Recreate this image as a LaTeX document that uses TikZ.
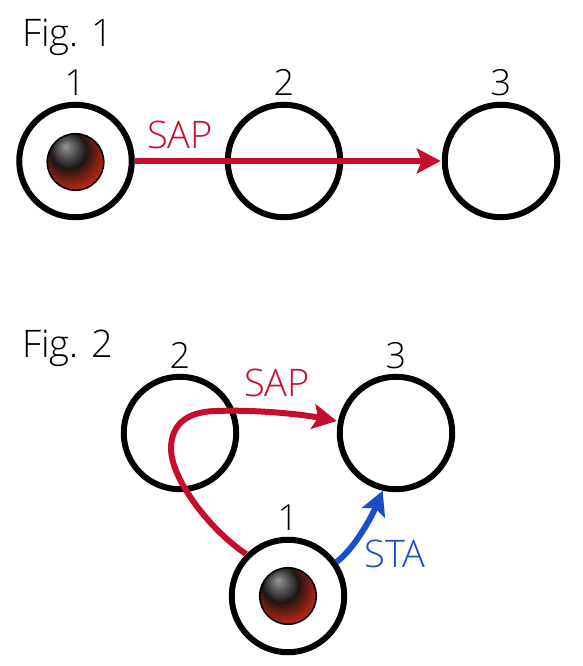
\documentclass[tikz,border=0pt]{standalone}
\usepackage{fontspec}
\setmainfont[UprightFont=* Light]{Open Sans}
\usetikzlibrary{arrows.meta,calc}
\definecolor{sapred}{RGB}{200,12,44}
\definecolor{stablue}{RGB}{26,78,200}
\definecolor{hl}{RGB}{150,150,150}
\definecolor{hm}{RGB}{85,85,85}
\definecolor{bk}{RGB}{30,22,20}
\definecolor{r1}{RGB}{115,30,18}
\definecolor{r2}{RGB}{190,40,24}
\definecolor{r3}{RGB}{245,45,25}
\pgfdeclareradialshading{ballshade}{\pgfpoint{-10bp}{16bp}}{
  color(0bp)=(hl);
  color(9bp)=(hm);
  color(18bp)=(bk);
  color(27bp)=(r1);
  color(36bp)=(r2);
  color(43bp)=(r3);
  color(70bp)=(r3)}
\tikzset{
  x=1pt,y=1pt,
  state/.style={circle,draw=black,line width=6pt,minimum size=112.5pt,inner sep=0pt,fill=none},
  ball/.style={circle,draw=black,line width=1.6pt,minimum size=56.5pt,inner sep=0pt,
    path picture={\node[inner sep=0pt] at (path picture bounding box.center) {\pgfuseshading{ballshade}};}},
  txt/.style={font=\fontsize{36}{36}\selectfont,inner sep=0pt},
  big/.style={font=\fontsize{38}{38}\selectfont,inner sep=0pt},
  sapline/.style={draw=sapred,line width=6pt,-{Stealth[length=24pt,width=25pt,inset=5pt]}},
  staline/.style={draw=stablue,line width=6pt,-{Stealth[length=24pt,width=25pt,inset=5pt]}}
}
\begin{document}
\begin{tikzpicture}
\useasboundingbox (0,0) rectangle (583,666);
% Fig. 1
\node[big,anchor=base west] (f1) at (22,619) {Fig. 1};
\node[state] (a1) at (75.5,505) {};
\node[state] (a2) at (284,505) {};
\node[state] (a3) at (501,505) {};
\node[ball] (ab) at (75.5,504) {};
\node[txt,anchor=base] (l1) at (75,570) {1};
\node[txt,anchor=base] (l2) at (284,570) {2};
\node[txt,anchor=base] (l3) at (501,570) {3};
\node[big,anchor=base,text=sapred] (s1) at (180,517) {SAP};
\draw[sapline,shorten >=1pt] (a1.east) -- (a3.west);
% Fig. 2
\node[big,anchor=base west] (f2) at (22,308) {Fig. 2};
\node[state] (b2) at (180,233) {};
\node[state] (b3) at (396,233) {};
\node[state] (b1) at (288,70) {};
\node[ball] (bb) at (288,70) {};
\node[txt,anchor=base] (m2) at (180,297) {2};
\node[txt,anchor=base] (m3) at (396,297) {3};
\node[txt,anchor=base] (m1) at (288,135) {1};
\node[big,anchor=base,text=sapred] (s2) at (277,269) {SAP};
\node[big,anchor=base,text=stablue] (s3) at (395,98) {STA};
\draw[sapline] (b1.135) .. controls (205,140) and (171,190) .. (171,217)
  .. controls (171,241) and (186,254) .. (215,255)
  .. controls (255,256.5) and (300,252) .. (b3.west |- 0,245);
\draw[staline] (b1.35) .. controls (355,118) and (372,150) .. (b3.-103);
\end{tikzpicture}
\end{document}
